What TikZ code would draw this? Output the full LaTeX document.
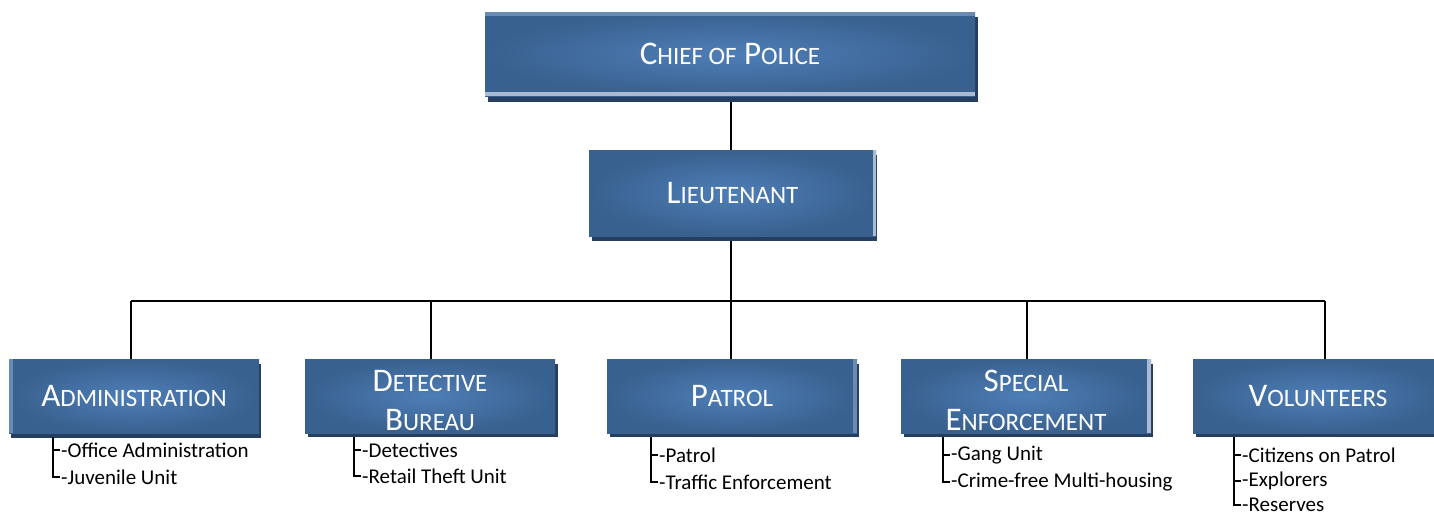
\documentclass[tikz,border=0pt]{standalone}
\usepackage{fontspec}
\setmainfont{Carlito}
\definecolor{boxin}{HTML}{4E7EB7}
\definecolor{boxout}{HTML}{39618F}
\definecolor{shadowc}{HTML}{263F60}
\definecolor{stripa}{HTML}{6A8AB2}
\definecolor{stripb}{HTML}{A9BBD3}
\newcommand\sm[1]{{\fontsize{25}{25}\selectfont #1}}
\begin{document}
\begin{tikzpicture}[x=1pt,y=-1pt,
  unit/.style={rectangle, inner sep=0pt, inner color=boxin, outer color=boxout,
    text=white, align=center, font=\fontsize{33}{39}\selectfont},
  label text/.style={inner sep=0pt, text=white, align=center, font=\fontsize{33}{39}\selectfont},
  link/.style={line width=2pt, black},
  item/.style={anchor=west, inner sep=0pt, font=\fontsize{21}{21}\selectfont},
  tree/.style={line width=1.6pt, black}]
\useasboundingbox (0,0) rectangle (1434,514);

% connectors
\coordinate (bar) at (731,301);
\coordinate (barL) at (131,301);
\coordinate (barR) at (1325,301);
\draw[link] (731,96) coordinate (chiefb) -- (731,150) coordinate (ltt);
\draw[link] (731,236) coordinate (ltb) -- (bar);
\draw[link] (barL) -- (barR);
\draw[link] (barL) -- (131,359);
\draw[link] (431,301) -- (431,359);
\draw[link] (bar) -- (731,359);
\draw[link] (1027,301) -- (1027,359);
\draw[link] (barR) -- (1325,359);

% shadows
\fill[shadowc] (488,17) rectangle (978,102);
\fill[shadowc] (592,155) rectangle (877,241);
\fill[shadowc] (11,364) rectangle (261,438);
\fill[shadowc] (308,364) rectangle (558,437);
\fill[shadowc] (610,364) rectangle (859,437);
\fill[shadowc] (904,364) rectangle (1153,437);
\fill[shadowc] (1196,364) rectangle (1446,437);

% boxes
\node[unit, minimum width=490, minimum height=84] (chief) at (730,54) {C\sm{HIEF OF} P\sm{OLICE}};
\fill[stripa] (485,12) rectangle (975,16);
\fill[stripb] (485,92) rectangle (975,96);

\node[unit, minimum width=287, minimum height=86] (lt) at (732.5,193) {L\sm{IEUTENANT}};
\fill[stripb] (873,150) rectangle (876,236);

\node[unit, minimum width=250, minimum height=74] (adm) at (134,396) {A\sm{DMINISTRATION}};
\fill[stripa] (9,359) rectangle (13,433);

\node[unit, minimum width=250, minimum height=74] (det) at (430,396) {};
\node[label text] (detT) at (430,400) {D\sm{ETECTIVE}\\B\sm{UREAU}};

\node[unit, minimum width=250, minimum height=74] (pat) at (732,396) {P\sm{ATROL}};
\fill[stripa] (853,359) rectangle (857,433);

\node[unit, minimum width=250, minimum height=74] (spe) at (1026,396) {};
\node[label text] (speT) at (1026,400) {S\sm{PECIAL}\\E\sm{NFORCEMENT}};
\fill[stripb] (1147,359) rectangle (1151,433);

\node[unit, minimum width=250, minimum height=74] (vol) at (1318,396) {V\sm{OLUNTEERS}};

% sub lists
\draw[tree] (53,437) -- (53,477) -- (60,477);
\draw[tree] (53,450) -- (60,450);
\node[item] (a1) at (61,450) {-Office Administration};
\node[item] (a2) at (61,477) {-Juvenile Unit};

\draw[tree] (354,437) -- (354,476) -- (361,476);
\draw[tree] (354,450) -- (361,450);
\node[item] (d1) at (362,450) {-Detectives};
\node[item] (d2) at (362,476) {-Retail Theft Unit};

\draw[tree] (651,437) -- (651,482) -- (658,482);
\draw[tree] (651,455) -- (658,455);
\node[item] (p1) at (659,455) {-Patrol};
\node[item] (p2) at (659,482) {-Traffic Enforcement};

\draw[tree] (943,437) -- (943,482) -- (950,482);
\draw[tree] (943,455) -- (950,455);
\node[item] (s1) at (951,455) {-Gang Unit};
\node[item] (s2) at (951,482) {-Crime-free Multi-housing};

\draw[tree] (1234,437) -- (1234,505) -- (1241,505);
\draw[tree] (1234,455) -- (1241,455);
\draw[tree] (1234,481) -- (1241,481);
\node[item] (v1) at (1242,455) {-Citizens on Patrol};
\node[item] (v2) at (1242,481) {-Explorers};
\node[item] (v3) at (1242,505) {-Reserves};
\end{tikzpicture}
\end{document}
